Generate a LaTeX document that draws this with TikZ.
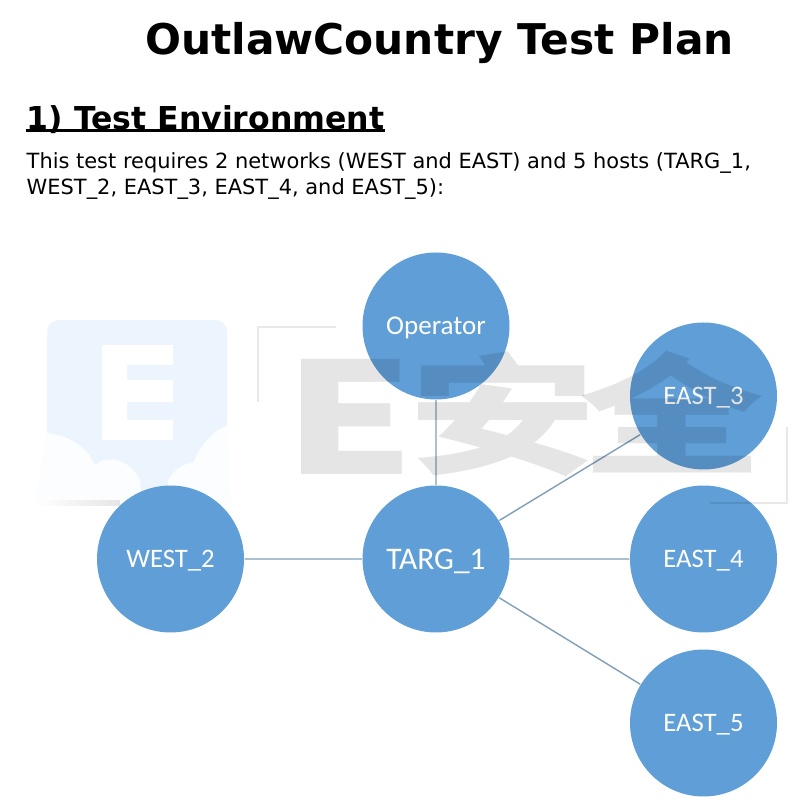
\documentclass[tikz,border=0pt]{standalone}
\usepackage{fontspec}
\setmainfont{DejaVu Sans}
\newfontfamily\hostfont{Carlito}
\newfontfamily\markfont{Noto Sans CJK SC}
\definecolor{hostblue}{HTML}{5F9ED6}
\definecolor{linkblue}{HTML}{7F9FB8}
\definecolor{logoblue}{HTML}{ECF4FD}
\definecolor{cloudwhite}{HTML}{FBFDFE}
\tikzset{
  host/.style={circle,fill=hostblue,inner sep=0pt,minimum size=14.7mm,text=white,text height=5.7pt,text depth=1.1pt,font=\hostfont\fontsize{7.6}{8}\selectfont},
  link/.style={draw=linkblue,line width=0.14mm},
  textline/.style={anchor=base west,inner sep=0pt,font=\fontsize{5.96}{7}\selectfont},
  markglyph/.style={anchor=base west,inner sep=0pt,text=black,text opacity=0.1},
  markline/.style={black,opacity=0.09,line width=0.28mm},
}
\begin{document}
\begin{tikzpicture}[scale=0.1]
\useasboundingbox (0,0) rectangle (81,-80.5);
\fill [white] (0,0) rectangle (81,-80.5);
\fill [logoblue,rounded corners=1.2mm] (4.7,-32) rectangle (22.7,-50);
\fill [cloudwhite] (4.7,-43.3) .. controls (7,-43.5) and (8.8,-44.8) .. (9.5,-46.5) .. controls (10.5,-45.6) and (12.8,-45.6) .. (14,-48) -- (14.2,-50.2) -- (3.5,-50.2) -- cycle;
\fill [cloudwhite] (16.8,-48) .. controls (17.5,-46.8) and (18.5,-46.3) .. (19.3,-46.3) .. controls (20,-44.5) and (21.3,-43) .. (22.8,-42.5) -- (23,-50.2) -- (16.8,-50.2) -- cycle;
\fill [white] (10.2,-34.5) -- (17.3,-34.5) -- (17.3,-36.5) -- (12.7,-36.5) -- (12.7,-38) -- (17.3,-38) -- (17.3,-40.2) -- (12.7,-40.2) -- (12.7,-42) -- (17.3,-42) -- (17.3,-44) -- (10.2,-44) -- cycle;
\fill [left color=white,right color=black!10] (3.5,-50.1) rectangle (12,-50.6);
\node (TARG) [host,text height=6.9pt,font=\hostfont\fontsize{8.95}{10}\selectfont] at (43.6,-55.9) {TARG\_1};
\node (OPER) [host,font=\hostfont\fontsize{7.7}{8}\selectfont] at (43.6,-32.6) {Operator};
\node (WEST) [host] at (17.05,-55.9) {WEST\_2};
\node (EAST3) [host] at (70.35,-39.6) {EAST\_3};
\node (EAST4) [host] at (70.35,-55.9) {EAST\_4};
\node (EAST5) [host] at (70.35,-72.3) {EAST\_5};
\draw [link] (OPER) -- (TARG);
\draw [link] (WEST) -- (TARG);
\draw [link] (TARG) -- (EAST3);
\draw [link] (TARG) -- (EAST4);
\draw [link] (TARG) -- (EAST5);
\draw [markline] (33.6,-32.7) -- (25.8,-32.7) -- (25.8,-40.2);
\draw [markline] (78.7,-42.7) -- (78.7,-50.3) -- (71,-50.3);
\node (MARKE) [markglyph,font=\markfont\bfseries\fontsize{44}{44}\selectfont] at (28.3,-47.5) {\scalebox{1.35}[1]{E}};
\node (MARKAN) [markglyph,font=\markfont\bfseries\fontsize{37}{37}\selectfont] at (40.8,-46.4) {\scalebox{1.45}[1]{安}};
\node (MARKQUAN) [markglyph,font=\markfont\bfseries\fontsize{37}{37}\selectfont] at (57.9,-46.4) {\scalebox{1.42}[1]{全}};
\node (TITLE) [anchor=base west,inner sep=0pt,font=\bfseries\fontsize{12.04}{14}\selectfont] at (14.45,-5.45) {OutlawCountry Test Plan};
\node (HEAD) [anchor=base west,inner sep=0pt,font=\bfseries\fontsize{8.97}{11}\selectfont] at (2.6,-13) {1) Test Environment};
\draw [line width=0.25mm] ([yshift=-0.27mm]HEAD.base west) -- ([yshift=-0.27mm]HEAD.base east);
\node (LINE1) [textline] at (2.6,-16.9) {This test requires 2 networks (WEST and EAST) and 5 hosts (TARG\_1,};
\node (LINE2) [textline] at (2.6,-19.5) {WEST\_2, EAST\_3, EAST\_4, and EAST\_5):};
\end{tikzpicture}
\end{document}
